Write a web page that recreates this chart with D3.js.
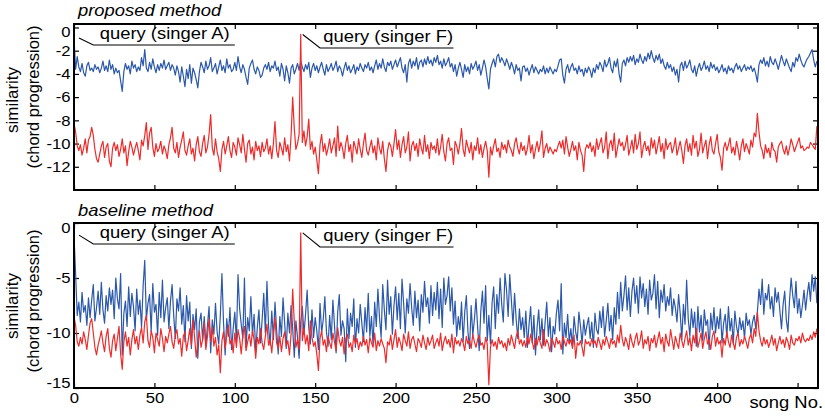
<!DOCTYPE html>
<html>
<head>
<meta charset="utf-8">
<script src="https://cdn.jsdelivr.net/npm/d3@7"></script>
<style>
body { margin: 0; background: #fff; }
text { font-family: "Liberation Sans", Arial, sans-serif; fill: #000; }
</style>
</head>
<body>
<script>
// similarity of every song (No. 0..462) to the two queries
const propQueryA = [
-0.9,-3.6,-2.5,-3.4,-3.8,-3.1,-3.9,-4.2,-3.3,-3.0,-3.7,-3.5,-3.8,-3.2,-3.6,-3.4,-3.9,-3.5,-2.9,-3.7,
-3.3,-3.8,-2.8,-3.6,-3.2,-4.0,-3.5,-3.9,-3.7,-4.6,-5.5,-3.8,-3.1,-3.6,-3.3,-4.0,-2.9,-3.5,-3.2,-3.8,
-3.4,-3.7,-2.6,-3.3,-1.9,-3.5,-3.8,-3.0,-3.6,-2.7,-3.4,-3.9,-3.2,-3.7,-3.1,-3.5,-2.8,-3.6,-3.3,-3.0,
-3.7,-3.2,-3.5,-4.1,-3.3,-3.8,-4.7,-3.4,-4.2,-5.1,-3.6,-4.4,-3.2,-4.8,-3.5,-3.9,-4.5,-5.2,-3.8,-3.0,
-3.4,-3.9,-2.9,-3.6,-3.3,-2.6,-3.8,-3.5,-3.1,-4.0,-3.4,-2.8,-3.7,-3.3,-3.9,-2.7,-3.5,-3.2,-3.8,-3.6,
-3.0,-3.7,-2.5,-3.4,-3.9,-3.2,-3.6,-4.3,-4.9,-3.5,-3.1,-2.8,-3.6,-4.0,-3.4,-3.7,-4.3,-4.1,-3.5,-3.2,
-3.6,-3.0,-3.8,-3.3,-3.5,-2.9,-3.7,-3.4,-4.2,-3.1,-3.6,-4.6,-3.3,-3.9,-4.8,-3.5,-3.2,-4.0,-3.6,-3.1,
-3.7,-2.9,-3.4,-3.8,-3.2,-3.6,-3.0,-4.3,-3.5,-3.1,-3.7,-3.3,-3.9,-3.4,-3.0,-3.6,-4.1,-3.2,-3.8,-3.5,
-3.1,-3.7,-3.4,-2.9,-3.8,-3.3,-3.6,-4.2,-3.5,-3.0,-3.7,-3.3,-3.9,-3.6,-3.2,-4.0,-3.4,-3.7,-3.1,-3.5,
-3.8,-3.2,-3.5,-3.0,-3.7,-3.4,-3.9,-3.3,-2.8,-3.6,-3.1,-3.5,-2.7,-3.4,-3.8,-3.0,-3.3,-2.9,-3.6,-3.2,
-2.8,-3.4,-3.0,-2.6,-3.5,-3.9,-3.2,-4.7,-3.1,-2.7,-3.5,-2.9,-3.3,-2.6,-3.6,-3.0,-2.8,-3.4,-2.7,-3.2,
-2.5,-3.1,-2.8,-3.3,-2.6,-3.0,-2.4,-3.2,-2.9,-3.5,-2.7,-3.3,-3.0,-2.6,-3.4,-3.1,-3.8,-3.2,-4.2,-3.5,
-3.0,-3.6,-4.3,-3.2,-3.8,-3.4,-4.0,-3.1,-3.6,-3.3,-2.9,-3.7,-3.2,-4.1,-3.5,-2.8,-3.4,-4.4,-5.3,-3.6,
-3.1,-2.7,-3.4,-2.5,-2.3,-3.0,-2.6,-2.9,-3.3,-2.7,-3.1,-3.6,-3.0,-3.4,-4.0,-3.2,-3.7,-3.5,-4.6,-3.4,
-3.3,-3.8,-3.5,-4.1,-3.6,-3.2,-3.9,-3.4,-3.7,-4.0,-3.6,-3.8,-3.3,-4.0,-3.5,-3.9,-3.4,-3.7,-4.0,-3.6,
-3.8,-3.3,-2.8,-2.7,-4.1,-4.8,-3.6,-3.2,-3.9,-3.4,-3.1,-3.7,-3.5,-4.0,-3.3,-3.8,-3.6,-4.2,-3.5,-3.9,
-3.4,-3.7,-4.3,-3.5,-3.9,-3.2,-3.6,-3.0,-3.3,-3.8,-2.8,-3.4,-3.1,-2.6,-3.5,-3.9,-2.9,-3.4,-2.7,-4.0,
-4.7,-3.1,-2.8,-3.3,-2.6,-3.0,-2.5,-2.9,-2.4,-3.2,-2.7,-3.0,-2.3,-2.8,-3.1,-2.5,-2.9,-2.2,-2.7,-2.0,
-2.6,-3.0,-2.4,-2.8,-2.3,-3.1,-2.7,-3.3,-3.6,-3.0,-3.5,-3.2,-3.8,-3.4,-4.1,-3.6,-4.7,-3.3,-3.0,-3.7,
-2.9,-3.5,-3.2,-2.8,-3.6,-3.9,-3.3,-4.2,-3.5,-3.1,-3.7,-3.4,-2.9,-3.6,-3.3,-3.8,-3.0,-3.5,-3.2,-3.7,
-3.4,-3.9,-3.6,-3.2,-3.8,-3.5,-4.0,-3.3,-3.7,-3.5,-3.9,-3.4,-3.1,-3.6,-3.3,-3.8,-3.5,-3.2,-3.7,-3.4,
-3.6,-3.3,-3.8,-3.5,-4.0,-4.7,-3.2,-2.8,-3.1,-2.6,-3.3,-2.9,-3.4,-2.5,-3.0,-3.2,-2.7,-3.1,-3.6,-3.0,
-2.4,-2.9,-3.3,-2.7,-3.1,-3.5,-3.8,-3.0,-3.4,-2.6,-2.9,-2.3,-2.8,-3.2,-3.4,-3.0,-2.7,-2.5,-2.2,-1.9,
-2.8,-3.4,-2.9];

const propQueryF = [
-8.3,-9.0,-10.2,-10.6,-10.1,-11.0,-10.4,-9.6,-10.8,-9.7,-9.4,-8.6,-9.3,-10.5,-11.3,-11.6,-10.9,-10.2,-9.8,-11.2,
-10.3,-10.0,-11.5,-12.0,-10.4,-9.9,-10.6,-10.1,-11.1,-10.5,-9.6,-10.8,-10.2,-11.9,-10.7,-9.8,-10.3,-11.0,-10.4,-9.9,
-10.6,-11.4,-9.7,-10.2,-9.3,-8.2,-10.5,-9.1,-8.6,-10.3,-11.1,-10.0,-10.7,-10.4,-9.8,-10.9,-10.2,-10.6,-11.3,-10.1,
-9.5,-8.6,-10.4,-10.8,-9.9,-11.2,-10.3,-9.7,-9.0,-10.6,-11.0,-10.2,-9.6,-10.9,-10.4,-11.5,-10.1,-9.4,-10.7,-11.1,
-10.0,-9.3,-10.8,-10.3,-9.2,-7.5,-10.4,-11.0,-9.6,-10.7,-11.3,-12.4,-10.5,-9.8,-10.9,-10.2,-9.4,-10.6,-11.2,-9.9,
-10.3,-11.0,-9.5,-10.1,-10.8,-9.2,-10.5,-11.6,-10.0,-9.7,-10.9,-10.3,-11.4,-9.8,-10.6,-10.2,-11.1,-9.9,-10.7,-10.4,
-9.6,-10.9,-10.2,-11.3,-10.0,-8.1,-10.6,-11.2,-9.9,-10.4,-11.0,-9.5,-10.7,-10.1,-11.5,-9.3,-6.0,-8.7,-10.5,-10.0,
-9.2,-0.6,-9.9,-8.9,-10.2,-9.4,-7.9,-10.5,-9.8,-10.9,-10.3,-11.4,-12.6,-10.1,-9.2,-10.7,-10.0,-11.0,-10.4,-9.6,
-10.8,-10.2,-9.5,-11.1,-8.5,-10.6,-9.9,-10.4,-11.3,-10.0,-9.3,-10.7,-10.1,-11.6,-9.8,-10.3,-10.9,-9.6,-10.5,-11.2,
-10.0,-9.1,-10.6,-11.0,-10.3,-9.7,-10.8,-10.2,-11.4,-9.5,-10.4,-10.9,-9.8,-11.3,-12.4,-10.6,-9.9,-10.2,-11.1,-10.0,
-8.8,-10.5,-9.7,-11.2,-10.1,-9.4,-10.8,-10.3,-9.0,-11.5,-10.2,-9.8,-10.6,-10.0,-11.1,-9.6,-10.4,-10.9,-9.3,-10.7,
-10.1,-11.3,-9.9,-10.5,-10.2,-10.8,-9.6,-11.0,-10.3,-9.2,-10.7,-11.5,-10.0,-9.5,-10.6,-10.4,-11.8,-9.8,-10.2,-10.9,
-10.0,-8.7,-10.5,-11.1,-9.7,-10.3,-10.8,-9.9,-11.4,-10.2,-10.6,-9.5,-10.9,-10.1,-11.2,-10.4,-9.8,-10.6,-12.9,-10.3,
-11.0,-10.2,-9.6,-10.7,-10.4,-11.2,-9.9,-10.5,-10.1,-10.8,-9.7,-10.3,-10.6,-11.1,-10.0,-9.5,-10.4,-10.9,-9.9,-10.6,
-10.2,-11.0,-10.4,-9.3,-10.8,-10.1,-11.3,-10.5,-9.8,-10.7,-10.0,-8.9,-11.2,-10.4,-10.0,-10.8,-10.3,-10.6,-10.9,-10.5,
-10.7,-10.2,-9.8,-10.4,-9.7,-10.9,-9.4,-10.3,-11.1,-10.5,-9.8,-10.6,-10.2,-11.4,-9.9,-10.6,-11.0,-12.4,-10.5,-10.1,
-10.4,-9.9,-10.7,-10.2,-11.1,-9.6,-10.5,-10.0,-9.5,-10.8,-10.3,-9.0,-11.3,-10.1,-9.7,-10.6,-9.1,-11.2,-10.4,-9.6,
-10.2,-9.9,-10.6,-10.1,-9.3,-11.0,-10.4,-9.7,-10.8,-9.2,-10.5,-10.0,-9.0,-11.2,-10.3,-9.8,-10.6,-10.2,-11.0,-9.5,
-10.4,-9.7,-10.9,-10.2,-9.4,-10.7,-10.0,-11.3,-9.6,-10.5,-10.1,-9.9,-10.8,-10.3,-9.5,-11.0,-10.4,-9.8,-10.6,-11.7,
-10.2,-9.6,-10.7,-10.0,-11.0,-9.3,-10.4,-9.8,-11.1,-10.5,-9.1,-10.8,-10.2,-9.7,-11.3,-10.1,-9.4,-10.6,-10.9,-10.0,
-9.2,-10.7,-11.2,-12.3,-10.4,-9.9,-10.6,-10.1,-9.5,-10.8,-10.3,-11.0,-9.8,-10.5,-11.4,-10.2,-9.6,-10.7,-10.0,-10.4,
-10.9,-9.7,-10.3,-9.1,-9.4,-7.4,-9.0,-10.2,-10.6,-11.3,-10.1,-10.8,-10.4,-11.2,-9.9,-10.5,-10.7,-11.6,-10.3,-10.0,
-9.8,-10.5,-10.9,-10.2,-11.0,-10.4,-9.6,-10.1,-10.7,-10.3,-9.9,-9.5,-10.4,-10.2,-10.6,-10.5,-10.3,-10.4,-9.9,-10.1,
-10.3,-10.5,-8.5];

const baseQueryA = [
-1.1,-4.6,-8.4,-7.2,-9.0,-6.3,-8.1,-7.5,-9.3,-6.8,-8.6,-7.0,-5.6,-8.9,-7.7,-6.2,-8.3,-5.4,-7.9,-9.1,
-6.6,-8.0,-5.9,-7.4,-6.1,-8.7,-5.0,-6.9,-7.8,-4.6,-12.0,-8.2,-7.1,-9.4,-5.8,-8.5,-6.4,-7.6,-9.8,-6.0,
-8.3,-7.0,-9.5,-5.7,-3.4,-8.8,-7.3,-6.5,-9.9,-5.5,-8.1,-7.4,-10.2,-6.3,-8.6,-5.2,-9.0,-7.7,-6.8,-9.6,
-7.1,-5.6,-8.4,-10.5,-6.9,-8.0,-5.9,-9.2,-7.5,-10.8,-6.6,-8.9,-7.2,-11.4,-8.3,-9.7,-7.8,-12.3,-9.0,-8.2,
-10.6,-8.5,-11.2,-9.3,-7.6,-11.8,-8.8,-10.1,-7.3,-9.9,-11.0,-8.4,-4.6,-9.1,-12.0,-8.7,-10.3,-7.7,-11.5,-9.6,
-8.1,-10.7,-4.7,-7.8,-9.2,-10.5,-5.0,-11.3,-8.6,-9.8,-6.7,-10.2,-8.3,-11.7,-9.5,-7.9,-10.9,-8.8,-6.4,-10.0,
-5.3,-9.4,-11.1,-8.0,-10.6,-7.2,-9.7,-11.9,-8.5,-10.3,-6.8,-9.1,-11.4,-8.2,-10.0,-7.5,-9.6,-12.2,-8.9,-10.4,
-12.3,-9.0,-7.6,-10.1,-8.3,-6.1,-9.5,-11.0,-7.9,-10.4,-8.6,-9.8,-11.5,-7.3,-10.0,-8.8,-6.7,-9.9,-11.2,-8.4,
-10.6,-7.0,-9.3,-11.8,-8.1,-6.5,-10.2,-8.9,-9.6,-12.6,-7.8,-10.5,-8.2,-9.4,-6.9,-11.3,-8.7,-10.0,-7.4,-9.1,
-10.8,-7.7,-9.9,-6.4,-10.3,-8.5,-11.1,-7.2,-9.4,-6.0,-8.6,-10.4,-5.6,-7.9,-9.7,-5.2,-8.3,-6.7,-10.1,-7.5,
-5.8,-8.8,-6.4,-9.6,-5.1,-7.3,-10.0,-6.9,-8.2,-5.5,-7.7,-9.3,-6.2,-8.6,-7.0,-9.8,-6.5,-8.1,-5.3,-7.6,
-6.8,-9.1,-5.7,-8.4,-6.3,-7.9,-5.4,-8.7,-6.0,-9.5,-5.0,-7.4,-6.6,-4.9,-8.0,-5.9,-9.2,-7.1,-10.3,-8.5,
-9.7,-7.2,-10.8,-8.1,-6.6,-9.9,-11.4,-7.5,-10.2,-8.8,-6.9,-9.4,-11.6,-8.0,-6.2,-9.1,-5.7,-10.7,-8.4,-11.0,
-7.3,-5.8,-9.6,-6.5,-8.2,-5.0,-7.4,-9.0,-4.6,-6.1,-8.5,-4.7,-7.0,-9.3,-6.4,-8.8,-10.5,-7.8,-9.7,-8.6,
-10.4,-8.0,-11.3,-9.2,-7.6,-10.9,-8.4,-12.0,-9.5,-7.9,-10.6,-8.7,-11.1,-9.0,-7.2,-10.3,-8.6,-11.7,-9.4,-10.1,
-8.2,-7.0,-9.8,-5.5,-11.9,-9.1,-10.4,-8.3,-10.8,-9.6,-11.2,-8.5,-9.9,-10.7,-8.1,-9.4,-11.0,-8.8,-10.2,-9.3,
-8.6,-10.5,-9.0,-11.3,-8.2,-9.7,-10.1,-8.0,-9.5,-7.6,-10.3,-8.9,-7.3,-9.8,-8.4,-10.6,-7.7,-9.2,-6.3,-8.7,
-5.4,-8.0,-6.6,-4.8,-7.9,-5.9,-8.5,-6.2,-5.0,-7.3,-5.7,-8.2,-4.9,-6.8,-5.5,-7.6,-6.0,-8.3,-5.2,-7.0,
-6.4,-4.7,-7.8,-5.3,-8.6,-6.1,-7.2,-5.6,-8.0,-6.7,-7.5,-5.9,-8.4,-6.9,-7.7,-9.0,-6.5,-8.2,-10.6,-7.4,
-9.2,-5.2,-8.7,-10.3,-7.8,-9.5,-8.1,-11.2,-7.6,-9.9,-8.4,-10.7,-7.9,-9.3,-8.8,-11.5,-8.2,-9.7,-7.7,-10.0,
-8.5,-9.6,-7.8,-10.9,-9.1,-8.3,-10.4,-7.6,-9.8,-8.7,-11.0,-8.0,-9.4,-10.2,-8.6,-9.7,-8.9,-10.5,-8.2,-9.3,
-8.8,-10.1,-9.0,-8.4,-9.6,-8.1,-6.0,-7.4,-5.1,-8.3,-6.4,-7.0,-5.6,-7.8,-6.7,-8.5,-5.9,-7.2,-6.3,-8.0,
-9.6,-7.4,-6.2,-8.8,-9.9,-7.0,-5.0,-6.6,-7.7,-5.3,-8.2,-6.9,-8.6,-7.5,-6.1,-7.9,-6.5,-5.4,-7.1,-4.7,
-6.2,-4.9,-7.3];

const baseQueryF = [
-8.5,-9.3,-10.8,-11.2,-10.4,-11.0,-9.9,-10.6,-11.5,-10.2,-9.1,-8.7,-10.0,-11.3,-12.0,-11.1,-10.5,-9.8,-10.9,-11.7,
-10.3,-9.6,-11.4,-12.2,-10.7,-10.1,-11.6,-10.5,-9.4,-11.9,-13.3,-10.8,-9.9,-11.2,-10.4,-12.0,-10.6,-9.7,-11.0,-10.3,
-11.5,-10.2,-9.5,-10.9,-9.0,-8.4,-10.7,-11.3,-9.8,-10.4,-11.8,-10.0,-10.6,-11.2,-9.6,-10.5,-11.7,-10.3,-10.9,-10.1,
-9.4,-10.8,-11.4,-10.2,-9.7,-11.0,-10.5,-12.1,-10.3,-9.9,-11.6,-10.7,-9.6,-11.1,-8.8,-10.4,-12.2,-10.9,-9.8,-11.3,
-10.6,-9.1,-11.5,-10.3,-8.7,-10.8,-9.5,-11.2,-10.4,-12.0,-11.1,-13.6,-10.7,-9.9,-11.4,-10.2,-9.3,-11.0,-10.6,-11.8,
-10.0,-11.3,-9.7,-10.5,-11.9,-10.2,-9.4,-11.6,-10.8,-10.1,-11.2,-9.8,-10.6,-12.3,-10.4,-11.0,-9.6,-10.9,-11.5,-10.3,
-9.2,-11.1,-10.6,-11.8,-10.0,-8.6,-10.9,-11.4,-10.3,-11.7,-10.5,-9.9,-11.2,-10.7,-12.0,-10.1,-6.0,-9.0,-11.3,-10.6,
-11.5,-0.9,-10.7,-9.6,-11.0,-10.2,-11.6,-8.9,-10.4,-11.2,-10.8,-11.9,-13.4,-10.5,-9.8,-11.1,-10.6,-11.7,-10.3,-10.9,
-11.4,-10.0,-10.8,-11.6,-9.5,-10.7,-11.2,-10.4,-11.9,-10.6,-10.1,-11.3,-10.9,-11.7,-10.2,-11.0,-10.5,-11.5,-10.8,-11.2,
-10.3,-11.1,-10.6,-11.8,-10.4,-10.9,-11.3,-10.0,-11.6,-10.7,-11.2,-10.5,-11.0,-11.4,-12.7,-10.8,-11.1,-10.2,-11.5,-10.6,
-9.7,-11.3,-10.4,-10.9,-11.6,-10.1,-10.7,-11.2,-9.9,-11.4,-10.6,-10.3,-11.0,-11.7,-10.5,-10.8,-11.3,-10.2,-10.9,-11.5,
-10.4,-11.1,-10.7,-10.2,-11.4,-10.9,-10.5,-11.2,-10.0,-11.6,-10.8,-10.3,-11.0,-10.6,-11.3,-10.1,-11.8,-10.4,-11.0,-10.7,
-11.2,-10.5,-10.9,-11.6,-10.3,-11.0,-10.7,-11.4,-10.1,-10.8,-11.3,-10.6,-10.2,-11.1,-10.9,-11.5,-10.4,-11.0,-14.7,-11.3,
-10.6,-11.2,-10.8,-11.5,-10.4,-11.0,-10.7,-11.3,-10.9,-11.6,-10.5,-11.1,-10.2,-10.8,-11.4,-10.3,-9.8,-11.0,-10.6,-11.2,
-10.7,-11.3,-10.4,-11.0,-10.1,-10.8,-11.5,-10.5,-11.1,-10.3,-10.9,-11.4,-9.7,-11.2,-10.6,-11.0,-11.7,-10.5,-10.8,-11.3,
-10.4,-11.0,-10.7,-11.5,-10.3,-10.8,-11.2,-10.5,-11.0,-10.6,-11.4,-10.2,-12.3,-10.9,-11.1,-10.7,-11.3,-12.1,-10.6,-11.0,
-10.8,-11.2,-10.5,-11.0,-10.7,-11.3,-10.4,-10.9,-11.5,-10.6,-11.1,-10.3,-10.8,-11.4,-10.5,-11.0,-10.7,-11.3,-10.2,-10.9,
-9.3,-10.6,-11.2,-10.4,-10.9,-11.5,-10.1,-10.8,-11.3,-10.5,-10.0,-11.1,-10.7,-9.8,-11.4,-10.6,-11.0,-10.3,-11.6,-10.5,
-10.9,-10.2,-11.3,-10.6,-9.9,-11.0,-10.4,-11.7,-10.1,-10.8,-11.2,-9.7,-10.6,-11.5,-10.3,-10.9,-11.4,-10.0,-10.7,-11.3,
-10.5,-9.8,-11.1,-10.4,-11.6,-10.2,-10.9,-9.6,-11.3,-10.7,-10.0,-11.4,-10.5,-9.9,-11.0,-10.6,-11.5,-10.3,-9.8,-11.2,
-10.4,-11.0,-10.7,-12.2,-10.5,-11.1,-9.9,-10.8,-11.3,-10.2,-10.9,-11.5,-10.4,-10.0,-11.2,-10.6,-11.0,-10.3,-10.8,-11.4,
-10.5,-10.1,-10.9,-9.6,-10.3,-8.1,-9.8,-10.7,-11.2,-10.4,-11.0,-10.6,-11.3,-10.8,-10.2,-11.1,-10.5,-11.6,-10.9,-10.3,
-11.0,-10.6,-11.3,-10.4,-10.8,-11.5,-10.2,-10.9,-11.1,-10.5,-10.7,-10.3,-10.9,-10.0,-10.6,-10.8,-10.5,-10.7,-10.2,-10.6,
-9.9,-10.4,-9.6];

const xTicks = [0, 50, 100, 150, 200, 250, 300, 350, 400, 450];
const topYTicks = [0, -2, -4, -6, -8, -10, -12];
const botYTicks = [0, -5, -10, -15];
const panelTitles = ["proposed method", "baseline method"];
const queryLabels = ["query (singer A)", "query (singer F)"];

const blue = "#2b58ab", red = "#ee2b2b";
const sx = 1.15; // the picture is a little wider than it is tall

const svg = d3.select("body").append("svg").attr("width", 825).attr("height", 417);
const x = d3.scaleLinear().domain([0, 462.7]).range([74, 818]);

const panels = [
  { title: panelTitles[0], a: propQueryA, f: propQueryF, top: 24, bottom: 190,
    dom: [-14, 0.3], ticks: topYTicks, xLabels: false, nudge: { "0": 4 },
    titleY: 16, simY: 100, chordY: 97 },
  { title: panelTitles[1], a: baseQueryA, f: baseQueryF, top: 223, bottom: 388,
    dom: [-15, 0], ticks: botYTicks, xLabels: true, nudge: { "0": 5, "-15": -5 },
    titleY: 216, simY: 306, chordY: 301 }
];

function stretchText(g, tx, ty, str, size) {
  return g.append("text")
    .attr("transform", `translate(${tx},${ty}) scale(${sx},1)`)
    .attr("font-size", size)
    .text(str);
}

panels.forEach((p, pi) => {
  const y = d3.scaleLinear().domain(p.dom).range([p.bottom, p.top]);
  const g = svg.append("g");
  const [x0, x1] = x.range();

  // axes, ticks pointing inward
  g.append("g").attr("transform", `translate(0,${p.bottom})`)
    .call(d3.axisBottom(x).tickValues(xTicks).tickSize(-5).tickPadding(5)
      .tickFormat(d => (p.xLabels && d !== 450) ? String(d) : ""));
  g.append("g").attr("transform", `translate(0,${p.top})`)
    .call(d3.axisTop(x).tickValues(xTicks).tickSize(-5).tickFormat(""));
  const yl = g.append("g").attr("transform", `translate(${x0},0)`)
    .call(d3.axisLeft(y).tickValues(p.ticks).tickSize(-5).tickPadding(3)
      .tickFormat(d => String(d)));
  g.append("g").attr("transform", `translate(${x1},0)`)
    .call(d3.axisRight(y).tickValues(p.ticks).tickSize(-5).tickFormat(""));

  g.selectAll(".domain").remove();
  g.selectAll(".tick line").attr("stroke", "#000").attr("stroke-width", 1.2);
  g.selectAll(".tick text")
    .attr("font-size", 14.5)
    .attr("fill", "#000")
    .attr("transform", `scale(${sx},1)`);
  yl.selectAll(".tick text")
    .attr("y", d => p.nudge[String(d)] || 0);

  // data lines
  const clipId = "clip" + pi;
  g.append("clipPath").attr("id", clipId).append("rect")
    .attr("x", x0).attr("y", p.top).attr("width", x1 - x0).attr("height", p.bottom - p.top);
  const line = d3.line().x((d, i) => x(i)).y(d => y(d));
  const plot = g.append("g").attr("clip-path", `url(#${clipId})`);
  plot.append("path").datum(p.a).attr("d", line)
    .attr("fill", "none").attr("stroke", blue).attr("stroke-width", 1.2).attr("stroke-linejoin", "round");
  plot.append("path").datum(p.f).attr("d", line)
    .attr("fill", "none").attr("stroke", red).attr("stroke-width", 1.2).attr("stroke-linejoin", "round");

  // frame
  g.append("rect")
    .attr("x", x0).attr("y", p.top).attr("width", x1 - x0).attr("height", p.bottom - p.top)
    .attr("fill", "none").attr("stroke", "#000").attr("stroke-width", 2);

  // query callouts
  const qa = d3.maxIndex(p.a), qf = d3.maxIndex(p.f);
  const callouts = [
    { i: qa, v: p.a[qa], dx: 5, from: 12, to: 100, txt: 16, uy: p.top + 21, label: queryLabels[0] },
    { i: qf, v: p.f[qf], dx: 2, from: 153, to: 236, txt: 155, uy: p.top + 24, label: queryLabels[1] }
  ];
  callouts.forEach(c => {
    g.append("path")
      .attr("d", `M${x(c.i) + c.dx},${y(c.v)}L${x(c.from)},${c.uy}H${x(c.to)}`)
      .attr("fill", "none").attr("stroke", "#000").attr("stroke-width", 1.1);
    stretchText(g, x(c.txt), c.uy - 6, c.label, 16);
  });

  // panel title and y axis title
  stretchText(g, 78, p.titleY, p.title, 16).attr("font-style", "italic");
  g.append("text")
    .attr("transform", `translate(18,${p.simY}) rotate(-90)`)
    .attr("text-anchor", "middle").attr("font-size", 17)
    .text("similarity");
  g.append("text")
    .attr("transform", `translate(39,${p.chordY}) rotate(-90)`)
    .attr("text-anchor", "middle").attr("font-size", 16.5)
    .text("(chord progression)");
});

stretchText(svg, 823, 408, "song No.", 16).attr("text-anchor", "end");
</script>
</body>
</html>
